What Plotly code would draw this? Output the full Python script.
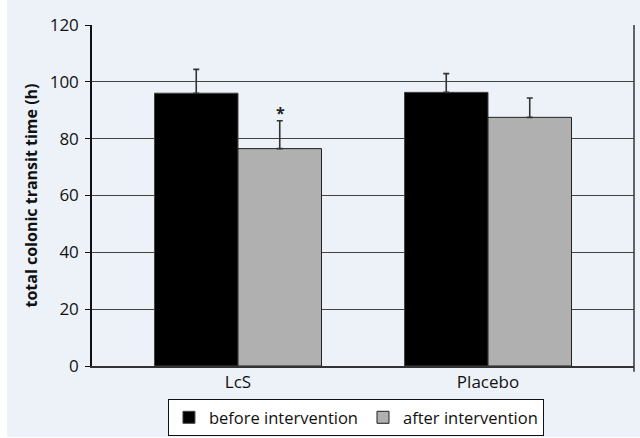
import plotly.graph_objects as go

categories = ["LcS", "Placebo"]
before_values = [96.0, 96.3]
before_errors = [8.4, 6.6]
after_values = [76.5, 87.5]
after_errors = [9.8, 6.8]
y_ticks = [0, 20, 40, 60, 80, 100, 120]

BG = "#edf2f9"
FONT = "Open Sans, Noto Sans, sans-serif"

fig = go.Figure()
fig.add_trace(go.Bar(
    x=categories, y=before_values, name="before intervention",
    marker=dict(color="#000000", line=dict(color="#444444", width=1)),
    error_y=dict(type="data", symmetric=False, array=before_errors,
                 arrayminus=[0, 0], color="#333333", thickness=1.6, width=3),
))
fig.add_trace(go.Bar(
    x=categories, y=after_values, name="after intervention",
    marker=dict(color="#b0b0b0", line=dict(color="#222222", width=1)),
    error_y=dict(type="data", symmetric=False, array=after_errors,
                 arrayminus=[0, 0], color="#333333", thickness=1.6, width=3),
))

fig.add_annotation(x=categories[0], y=after_values[0] + after_errors[0],
                   text="<b>*</b>", showarrow=False, xshift=42,
                   yanchor="bottom", yshift=-5,
                   font=dict(size=16, color="#222222", family=FONT))

# white strips at left and bottom edges of the picture
fig.add_shape(type="rect", xref="paper", yref="paper",
              x0=-92/542, x1=-85/542, y0=-2, y1=2,
              fillcolor="white", line=dict(width=0), layer="above")
fig.add_shape(type="rect", xref="paper", yref="paper",
              x0=-1, x1=2, y0=-74/341, y1=-71/341,
              fillcolor="white", line=dict(width=0), layer="above")

# right border of plot area
fig.add_shape(type="line", xref="paper", yref="paper", x0=1, x1=1,
              y0=-0.017, y1=1, line=dict(color="#333333", width=1.5))

fig.update_layout(
    width=640, height=438,
    margin=dict(l=92, r=6, t=25, b=72, autoexpand=False),
    paper_bgcolor=BG, plot_bgcolor=BG,
    barmode="group", bargap=0.332, bargroupgap=0,
    font=dict(family=FONT, size=17, color="#111111"),
    showlegend=True,
    legend=dict(orientation="h", x=0.487, xanchor="center",
                y=-0.097, yanchor="top",
                bgcolor="white", bordercolor="#111111", borderwidth=1,
                font=dict(size=16.5, family=FONT), itemwidth=30,
                tracegroupgap=0),
    xaxis=dict(range=[-0.584, 1.584], showgrid=False, ticks="",
               showline=True, linecolor="#333333", linewidth=1.5,
               tickfont=dict(size=17), zeroline=False),
    yaxis=dict(range=[0, 120], tickvals=y_ticks, ticks="outside",
               ticklen=5, tickcolor="#111111", tickwidth=1.3,
               showline=True, linecolor="#111111", linewidth=1.5,
               mirror=False, showgrid=True, gridcolor="#444444",
               gridwidth=1.3, zeroline=False, ticklabelstandoff=3,
               tickfont=dict(size=17),
               title=dict(text="<b>total colonic transit time (h)</b>",
                          font=dict(size=16), standoff=8)),
)

fig.write_html("out.html",
               config={"displayModeBar": False},
               post_script="document.body.style.margin='0px';"
                           "document.body.style.overflow='hidden';")
